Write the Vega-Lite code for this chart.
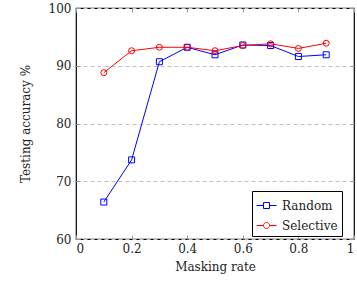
{
  "$schema": "https://vega.github.io/schema/vega-lite/v6.json",
  "width": 278,
  "height": 231,
  "autosize": "none",
  "padding": {"left": 76, "top": 8, "right": 3, "bottom": 47},
  "config": {
    "font": "DejaVu Serif",
    "view": {"stroke": "black", "strokeWidth": 1.2},
    "axis": {
      "labelFont": "DejaVu Serif",
      "titleFont": "DejaVu Serif",
      "labelFontSize": 12,
      "titleFontSize": 12,
      "titleFontWeight": "normal",
      "labelColor": "#222",
      "titleColor": "#222",
      "domain": false,
      "tickColor": "#999",
      "tickSize": -4,
      "grid": false
    },
    "legend": {"labelFont": "DejaVu Serif"}
  },
  "data": {
    "values": [
      {"rate": 0.1, "acc": 66.4, "method": "Random"},
      {"rate": 0.2, "acc": 73.7, "method": "Random"},
      {"rate": 0.3, "acc": 90.7, "method": "Random"},
      {"rate": 0.4, "acc": 93.2, "method": "Random"},
      {"rate": 0.5, "acc": 91.9, "method": "Random"},
      {"rate": 0.6, "acc": 93.6, "method": "Random"},
      {"rate": 0.7, "acc": 93.5, "method": "Random"},
      {"rate": 0.8, "acc": 91.6, "method": "Random"},
      {"rate": 0.9, "acc": 91.9, "method": "Random"},
      {"rate": 0.1, "acc": 88.8, "method": "Selective"},
      {"rate": 0.2, "acc": 92.6, "method": "Selective"},
      {"rate": 0.3, "acc": 93.2, "method": "Selective"},
      {"rate": 0.4, "acc": 93.2, "method": "Selective"},
      {"rate": 0.5, "acc": 92.6, "method": "Selective"},
      {"rate": 0.6, "acc": 93.5, "method": "Selective"},
      {"rate": 0.7, "acc": 93.8, "method": "Selective"},
      {"rate": 0.8, "acc": 93.0, "method": "Selective"},
      {"rate": 0.9, "acc": 93.9, "method": "Selective"}
    ]
  },
  "layer": [
    {
      "mark": {"type": "line", "strokeWidth": 1},
      "encoding": {
        "x": {
          "field": "rate", "type": "quantitative",
          "scale": {"domain": [0, 1], "nice": false},
          "axis": {"title": "Masking rate", "values": [0, 0.2, 0.4, 0.6, 0.8, 1], "format": "~g", "labelPadding": 8, "titlePadding": 7}
        },
        "y": {
          "field": "acc", "type": "quantitative",
          "scale": {"domain": [60, 100], "nice": false, "zero": false},
          "axis": {"title": "Testing accuracy %", "values": [60, 70, 80, 90, 100], "grid": true, "gridDash": [4, 3], "gridColor": "#c0c0c0", "labelPadding": 9, "titlePadding": 16}
        },
        "color": {
          "field": "method", "type": "nominal",
          "scale": {"domain": ["Random", "Selective"], "range": ["#0000ff", "#ff0000"]},
          "legend": {
            "title": null,
            "orient": "none",
            "legendX": 176,
            "legendY": 183,
            "strokeColor": "black",
            "fillColor": "white",
            "padding": 4,
            "symbolSize": 400,
            "symbolStrokeWidth": 1,
            "symbolFillColor": "transparent",
            "labelFont": "DejaVu Serif",
            "labelFontSize": 12,
            "labelColor": "#222",
            "labelOffset": 5,
            "rowPadding": 3,
            "encode": {
              "symbols": {
                "update": {
                  "shape": {"signal": "datum.value == 'Random' ? 'M-1,0H-0.3M0.3,0H1M-0.3,-0.3H0.3V0.3H-0.3Z' : 'M-1,0H-0.3M0.3,0H1M0.3,0A0.3,0.3 0 1,1 -0.3,0A0.3,0.3 0 1,1 0.3,0'"},
                  "fill": {"value": "transparent"}
                }
              }
            }
          }
        }
      }
    },
    {
      "transform": [{"filter": "datum.method == 'Random'"}],
      "mark": {"type": "point", "shape": "square", "filled": false, "size": 36, "strokeWidth": 1, "opacity": 1},
      "encoding": {
        "x": {"field": "rate", "type": "quantitative", "axis": null},
        "y": {"field": "acc", "type": "quantitative", "axis": null},
        "color": {"field": "method", "type": "nominal"}
      }
    },
    {
      "transform": [{"filter": "datum.method == 'Selective'"}],
      "mark": {"type": "point", "shape": "circle", "filled": false, "size": 36, "strokeWidth": 1, "opacity": 1},
      "encoding": {
        "x": {"field": "rate", "type": "quantitative", "axis": null},
        "y": {"field": "acc", "type": "quantitative", "axis": null},
        "color": {"field": "method", "type": "nominal"}
      }
    },
    {
      "mark": {"type": "point", "opacity": 0},
      "encoding": {
        "x": {
          "field": "rate", "type": "quantitative",
          "axis": {"orient": "top", "title": null, "labels": false, "labelOpacity": 0, "values": [0, 0.2, 0.4, 0.6, 0.8, 1]}
        },
        "y": {
          "field": "acc", "type": "quantitative",
          "axis": {"orient": "right", "title": null, "labels": false, "labelOpacity": 0, "values": [60, 70, 80, 90, 100]}
        }
      }
    }
  ],
  "resolve": {"axis": {"x": "independent", "y": "independent"}}
}
